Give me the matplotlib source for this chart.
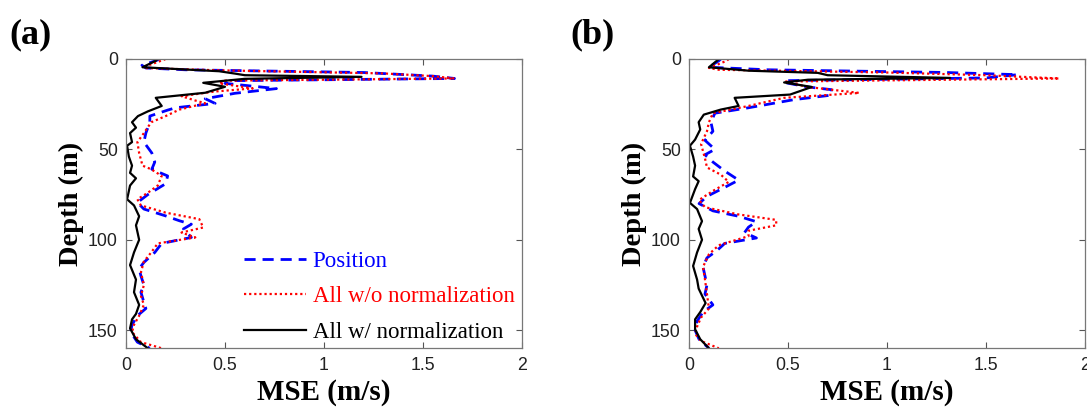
import matplotlib.pyplot as plt
import numpy as np

# ---- panel (a) data: depth (m) and MSE (m/s) per series ----
a_pos_depth = [0, 1, 3.5, 5, 6, 7.5, 9.5, 10.8, 12, 13.5, 16.4, 19, 22, 24.6, 27, 28.3, 31.6,
               35, 41, 46, 52, 57, 61, 64.7, 69, 75, 79.4, 83, 86.8, 89.5, 91.4, 94, 98.7,
               102, 107, 112.5, 116, 120, 125, 129, 134.6, 138, 142, 147, 151, 156.6, 160]
a_pos_mse = [0.17, 0.15, 0.08, 0.1, 0.3, 1.2, 1.55, 1.66, 0.55, 0.5, 0.76, 0.55, 0.4, 0.45, 0.25,
             0.21, 0.12, 0.12, 0.10, 0.09, 0.13, 0.145, 0.13, 0.21, 0.2, 0.11, 0.057, 0.09, 0.2,
             0.27, 0.33, 0.29, 0.33, 0.18, 0.145, 0.09, 0.066, 0.075, 0.09, 0.075, 0.09, 0.10,
             0.057, 0.03, 0.023, 0.057, 0.12]

a_raw_depth = [0, 0.5, 4, 5, 6.3, 8, 9.5, 10.8, 12, 13.5, 16.3, 18, 20.6, 23, 24.5, 28, 31.6,
               35, 41, 46, 52, 59, 61, 64.7, 70, 74, 77.6, 81, 85, 88.6, 93.2, 96, 98.7, 102,
               107, 112, 118, 125, 131, 136, 142, 147, 151, 156.6, 160]
a_raw_mse = [0.2, 0.19, 0.1, 0.09, 0.47, 1.3, 1.55, 1.66, 0.5, 0.47, 0.64, 0.45, 0.28, 0.35, 0.4,
             0.27, 0.2, 0.127, 0.09, 0.057, 0.066, 0.083, 0.127, 0.18, 0.16, 0.11, 0.057, 0.075,
             0.2, 0.37, 0.39, 0.28, 0.35, 0.16, 0.127, 0.09, 0.075, 0.09, 0.075, 0.09, 0.066,
             0.04, 0.03, 0.075, 0.18]

a_norm_depth = [0, 1, 4.6, 6.8, 8.1, 9, 9.9, 11, 13.2, 15.4, 18.7, 21.5, 26, 29, 31.6, 35, 38,
                41, 46, 48, 54, 59, 63, 66, 70, 77.6, 81, 87, 92, 100, 107, 114, 122, 129,
                136, 141, 144, 149, 155, 160]
a_norm_mse = [0.16, 0.15, 0.083, 0.47, 0.55, 0.6, 1.19, 0.6, 0.39, 0.5, 0.4, 0.15, 0.18, 0.11,
              0.06, 0.03, 0.05, 0.02, 0.03, 0.005, 0.014, 0.03, 0.02, 0.05, 0.02, 0.005, 0.04,
              0.066, 0.05, 0.066, 0.04, 0.02, 0.05, 0.04, 0.066, 0.05, 0.03, 0.02, 0.05, 0.11]

# ---- panel (b) data ----
b_pos_depth = [0, 1, 4.6, 6, 7.5, 8.7, 10.5, 12, 13, 15.5, 17, 20, 22.5, 27, 30, 35, 40, 45,
               50, 53, 57, 62, 67, 71, 76, 80, 84, 87, 90, 93, 96, 99, 102, 106, 110, 115,
               120, 125, 130, 136, 140, 145, 150, 155, 160]
b_pos_mse = [0.16, 0.15, 0.1, 0.4, 1.3, 1.66, 1.5, 0.5, 0.48, 0.6, 0.72, 0.72, 0.53, 0.3, 0.13,
             0.11, 0.12, 0.08, 0.13, 0.08, 0.12, 0.18, 0.25, 0.18, 0.09, 0.05, 0.12, 0.25,
             0.34, 0.3, 0.28, 0.34, 0.18, 0.14, 0.09, 0.07, 0.08, 0.09, 0.08, 0.12, 0.07, 0.04,
             0.03, 0.05, 0.1]

b_raw_depth = [0, 1, 5, 6, 7.5, 9, 10.8, 12.5, 15.5, 18.8, 21.5, 26, 30, 35, 40, 47, 55, 60,
               64, 68, 73, 78, 82, 86, 89, 92, 95, 98, 103, 108, 115, 122, 130, 138, 143, 148,
               152, 156, 160]
b_raw_mse = [0.2, 0.19, 0.1, 0.15, 1.0, 1.5, 1.87, 0.48, 0.6, 0.86, 0.48, 0.3, 0.12, 0.1, 0.09,
             0.06, 0.08, 0.09, 0.16, 0.2, 0.12, 0.05, 0.08, 0.25, 0.44, 0.44, 0.3, 0.3, 0.15,
             0.1, 0.07, 0.08, 0.09, 0.1, 0.06, 0.04, 0.03, 0.06, 0.15]

b_norm_depth = [0, 1, 4.6, 6.5, 7.7, 9, 10.5, 11.5, 13, 15.5, 19.7, 21.5, 26, 28, 30.8, 35,
                39, 44.6, 48, 54, 59, 65, 67.6, 72, 79.6, 83, 89.7, 94, 100, 107, 114.5, 122,
                127, 135, 140, 144, 149.5, 155, 160]
b_norm_mse = [0.15, 0.14, 0.1, 0.3, 0.65, 0.7, 1.32, 0.6, 0.48, 0.62, 0.51, 0.23, 0.25, 0.16,
              0.074, 0.048, 0.056, 0.03, 0.004, 0.02, 0.03, 0.02, 0.048, 0.03, 0.004, 0.04,
              0.065, 0.048, 0.065, 0.04, 0.02, 0.04, 0.048, 0.083, 0.056, 0.03, 0.03, 0.056,
              0.1]

labels = ['Position', 'All w/o normalization', 'All w/ normalization']
xticks = [0, 0.5, 1, 1.5, 2]
yticks = [0, 50, 100, 150]

serif = 'Liberation Serif'
sans = 'Liberation Sans'

fig = plt.figure(figsize=(10.87, 4.11), dpi=100)
ax_a = fig.add_axes([0.116, 0.1526, 0.364, 0.704])
ax_b = fig.add_axes([0.634, 0.1526, 0.364, 0.704])

panels = [
    (ax_a, '(a)', 0.009, a_pos_depth, a_pos_mse, a_raw_depth, a_raw_mse, a_norm_depth, a_norm_mse),
    (ax_b, '(b)', 0.525, b_pos_depth, b_pos_mse, b_raw_depth, b_raw_mse, b_norm_depth, b_norm_mse),
]

for ax, tag, tx, pd_, pm, rd, rm, nd, nm in panels:
    ax.plot(pm, pd_, color='blue', linestyle=(0, (4, 2.5)), linewidth=2, label=labels[0])
    ax.plot(rm, rd, color='red', linestyle=(0, (1, 1.3)), linewidth=1.6, label=labels[1])
    ax.plot(nm, nd, color='black', linestyle='-', linewidth=1.6, label=labels[2])

    ax.set_xlim(0, 2)
    ax.set_ylim(160, 0)
    ax.set_xticks(xticks)
    ax.set_xticklabels(['0', '0.5', '1', '1.5', '2'])
    ax.set_yticks(yticks)
    ax.tick_params(direction='in', top=True, right=True, length=4, width=0.8,
                   color='#555555', labelsize=12.8, labelcolor='#222222', pad=6)
    for lab in ax.get_xticklabels() + ax.get_yticklabels():
        lab.set_family(sans)
    for sp in ax.spines.values():
        sp.set_color('#777777')
        sp.set_linewidth(0.9)

    ax.set_xlabel('MSE (m/s)', family=serif, fontweight='bold', fontsize=21, labelpad=4)
    ax.set_ylabel('Depth (m)', family=serif, fontweight='bold', fontsize=20.5, labelpad=3)
    fig.text(tx, 0.915, tag, family=serif, fontweight='bold', fontsize=26,
             ha='left', va='center')

# legend only on panel (a), no frame, text coloured like its line
leg = ax_a.legend(loc='lower right', bbox_to_anchor=(1.005, -0.012), frameon=False,
                  prop={'family': serif, 'size': 16.5}, handlelength=2.7,
                  handletextpad=0.3, labelspacing=0.63, borderaxespad=0.0,
                  labelcolor='linecolor')

fig.savefig('out.png', dpi=100)
